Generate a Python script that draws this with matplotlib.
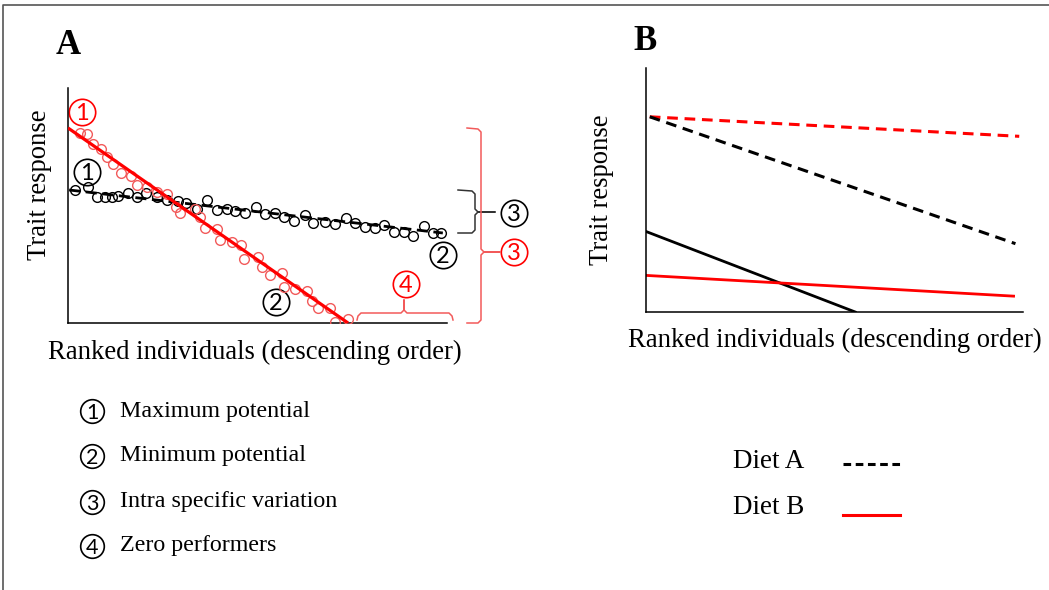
import numpy as np
import matplotlib
matplotlib.use("Agg")
import matplotlib.pyplot as plt

plt.rcParams['font.family'] = ['Liberation Serif', 'DejaVu Serif']

# panel A: ranked individuals (x) and their trait response (y)
black_x = [1.8, 5.3, 7.7, 9.8, 11.6, 13.2, 15.8, 18.2, 20.6, 23.5, 26.1, 29.0, 31.1,
           34.0, 36.7, 39.3, 42.0, 44.1, 46.7, 49.6, 52.0, 54.6, 57.0, 59.6, 62.5,
           64.6, 67.8, 70.4, 73.4, 75.7, 78.4, 81.0, 83.4, 86.0, 88.7, 91.0, 93.9,
           96.3, 98.4]
black_y = [56.6, 57.9, 53.6, 53.6, 53.6, 54.0, 55.3, 53.6, 55.3, 53.6, 52.3, 51.9, 51.1,
           48.5, 52.3, 48.1, 48.5, 47.7, 46.8, 49.4, 46.4, 46.8, 45.1, 43.4, 46.0,
           42.6, 43.0, 42.1, 44.7, 42.6, 40.9, 40.4, 41.7, 38.7, 38.7, 37.0, 41.3,
           38.3, 38.3]
red_x = [3.2, 5.0, 6.6, 8.7, 10.3, 11.9, 14.0, 16.6, 18.2, 20.8, 23.5, 26.1, 28.5,
         29.6, 33.5, 34.8, 36.1, 39.3, 40.1, 43.3, 45.6, 46.4, 50.1, 51.2, 53.3,
         56.5, 57.0, 59.9, 63.1, 64.4, 66.0, 69.1, 70.4, 73.9]
red_y = [80.9, 80.4, 76.2, 74.0, 70.6, 67.7, 63.8, 62.6, 58.7, 57.9, 55.7, 54.9, 49.4,
         46.8, 48.5, 45.1, 40.4, 40.0, 35.3, 34.5, 33.2, 27.2, 28.1, 23.8, 20.4,
         21.3, 15.3, 14.5, 13.6, 9.4, 6.4, 6.4, 0.4, 1.7]
black_fit_x = [0.3, 98.9]
black_fit_y = [56.6, 38.3]
red_fit_x = [0.0, 73.9]
red_fit_y = [83.0, 0.0]

# panel B: reaction lines for two diets
dietA_dash_x, dietA_dash_y = [1, 98], [80, 28]
dietB_dash_x, dietB_dash_y = [1, 99], [80, 72]
dietA_solid_x, dietA_solid_y = [0, 55.5], [33, 0]
dietB_solid_x, dietB_solid_y = [0, 97.5], [15, 6.5]

legend_items = ["Maximum potential", "Minimum potential",
                "Intra specific variation", "Zero performers"]
diet_labels = ["Diet A", "Diet B"]

W, H = 1049, 590
fig = plt.figure(figsize=(W / 100, H / 100), dpi=100)

# overlay in pixel units for labels and braces
ov = fig.add_axes([0, 0, 1, 1])
ov.set_xlim(0, W)
ov.set_ylim(H, 0)
ov.axis("off")


def px_axes(l, r, t, b):
    return fig.add_axes([l / W, 1 - b / H, (r - l) / W, (b - t) / H])


RED = "#ff0000"
LRED = "#f25a5a"

axA = px_axes(68, 447, 88, 323)
axA.plot(black_fit_x, black_fit_y, color="black", lw=2, ls=(0, (4, 2)), zorder=2)
axA.plot(black_x, black_y, ls="none", marker="o", ms=7, mfc="none",
         mec="black", mew=1.0, zorder=3)
axA.plot(red_x, red_y, ls="none", marker="o", ms=7, mfc="none",
         mec=LRED, mew=1.0, zorder=3)
axA.plot(red_fit_x, red_fit_y, color=RED, lw=2.3, zorder=4, solid_capstyle="butt")

axB = px_axes(646, 1023, 68, 312)
axB.plot(dietB_dash_x, dietB_dash_y, color=RED, lw=2.2, ls=(0, (3.5, 2.2)))
axB.plot(dietA_dash_x, dietA_dash_y, color="black", lw=2.2, ls=(0, (3.5, 2.2)))
axB.plot(dietA_solid_x, dietA_solid_y, color="black", lw=2)
axB.plot(dietB_solid_x, dietB_solid_y, color=RED, lw=2)

for ax in (axA, axB):
    ax.set_xlim(0, 100)
    ax.set_ylim(0, 100)
    ax.set_xticks([])
    ax.set_yticks([])
    for s in ("top", "right"):
        ax.spines[s].set_visible(False)
    for s in ("left", "bottom"):
        ax.spines[s].set_linewidth(1.1)
    ax.patch.set_alpha(0)


def circ(x, y, s, color="black", size=17, ring=19):
    # ring drawn as a marker so the digit sits in the middle of it
    ov.plot([x], [y], ls="none", marker="o", ms=ring, mfc="none",
            mec=color, mew=1.2)
    digit_h = 0.70 * size * 100 / 72
    ov.text(x, y + digit_h / 2, s, color=color, fontsize=size,
            family=["Lato", "DejaVu Sans"], ha="center", va="baseline")


# panel letters and axis labels
ov.text(68, 46, "A", fontsize=25, fontweight="bold", ha="center", va="center")
ov.text(645, 42, "B", fontsize=25, fontweight="bold", ha="center", va="center")
ov.text(255, 352, "Ranked individuals (descending order)", fontsize=19.2,
        ha="center", va="center")
ov.text(835, 340, "Ranked individuals (descending order)", fontsize=19.2,
        ha="center", va="center")
ov.text(40, 185, "Trait response", fontsize=19.2, rotation=90,
        ha="center", va="center")
ov.text(601, 190, "Trait response", fontsize=19.2, rotation=90,
        ha="center", va="center")

# numbered callouts on panel A
circ(82, 112, "1", RED)
circ(87, 172, "1")
circ(276, 302, "2")
circ(443, 255, "2")
circ(514, 213, "3")
circ(514, 252, "3", RED)
circ(406, 284, "4", RED)

# braces
ov.plot([458, 472, 475, 475, 478, 495, 478, 475, 475, 472, 458],
        [190, 191, 194, 209, 212, 212, 212, 215, 230, 233, 233],
        color="#333333", lw=1.1)
ov.plot([467, 478, 481, 481, 484, 500, 484, 481, 481, 478, 467],
        [128, 129, 132, 249, 252, 252, 252, 255, 320, 323, 323],
        color=LRED, lw=1.1)
ov.plot([357, 358, 361, 401, 404, 404, 404, 407, 449, 452, 453],
        [320, 316, 313, 313, 310, 300, 310, 313, 313, 316, 320],
        color=LRED, lw=1.1)

# numbered legend
for i, lab in enumerate(legend_items):
    y = [411, 456, 502, 546][i]
    circ(92, y, str(i + 1), size=15.5, ring=17)
    ov.text(120, y, lab, fontsize=17.3, ha="left", va="center")

# diet legend
ov.text(733, 461, diet_labels[0], fontsize=19.5, ha="left", va="center")
ov.text(733, 507, diet_labels[1], fontsize=19.5, ha="left", va="center")
ov.plot([843, 900], [464, 464], color="black", lw=2.2, ls=(0, (2.5, 1.5)))
ov.plot([843, 900], [515, 515], color=RED, lw=2.2)

# frame around the figure
ov.plot([3, 3, W], [H, 5, 5], color="#555555", lw=1.2)

fig.savefig("out.png", dpi=100)
